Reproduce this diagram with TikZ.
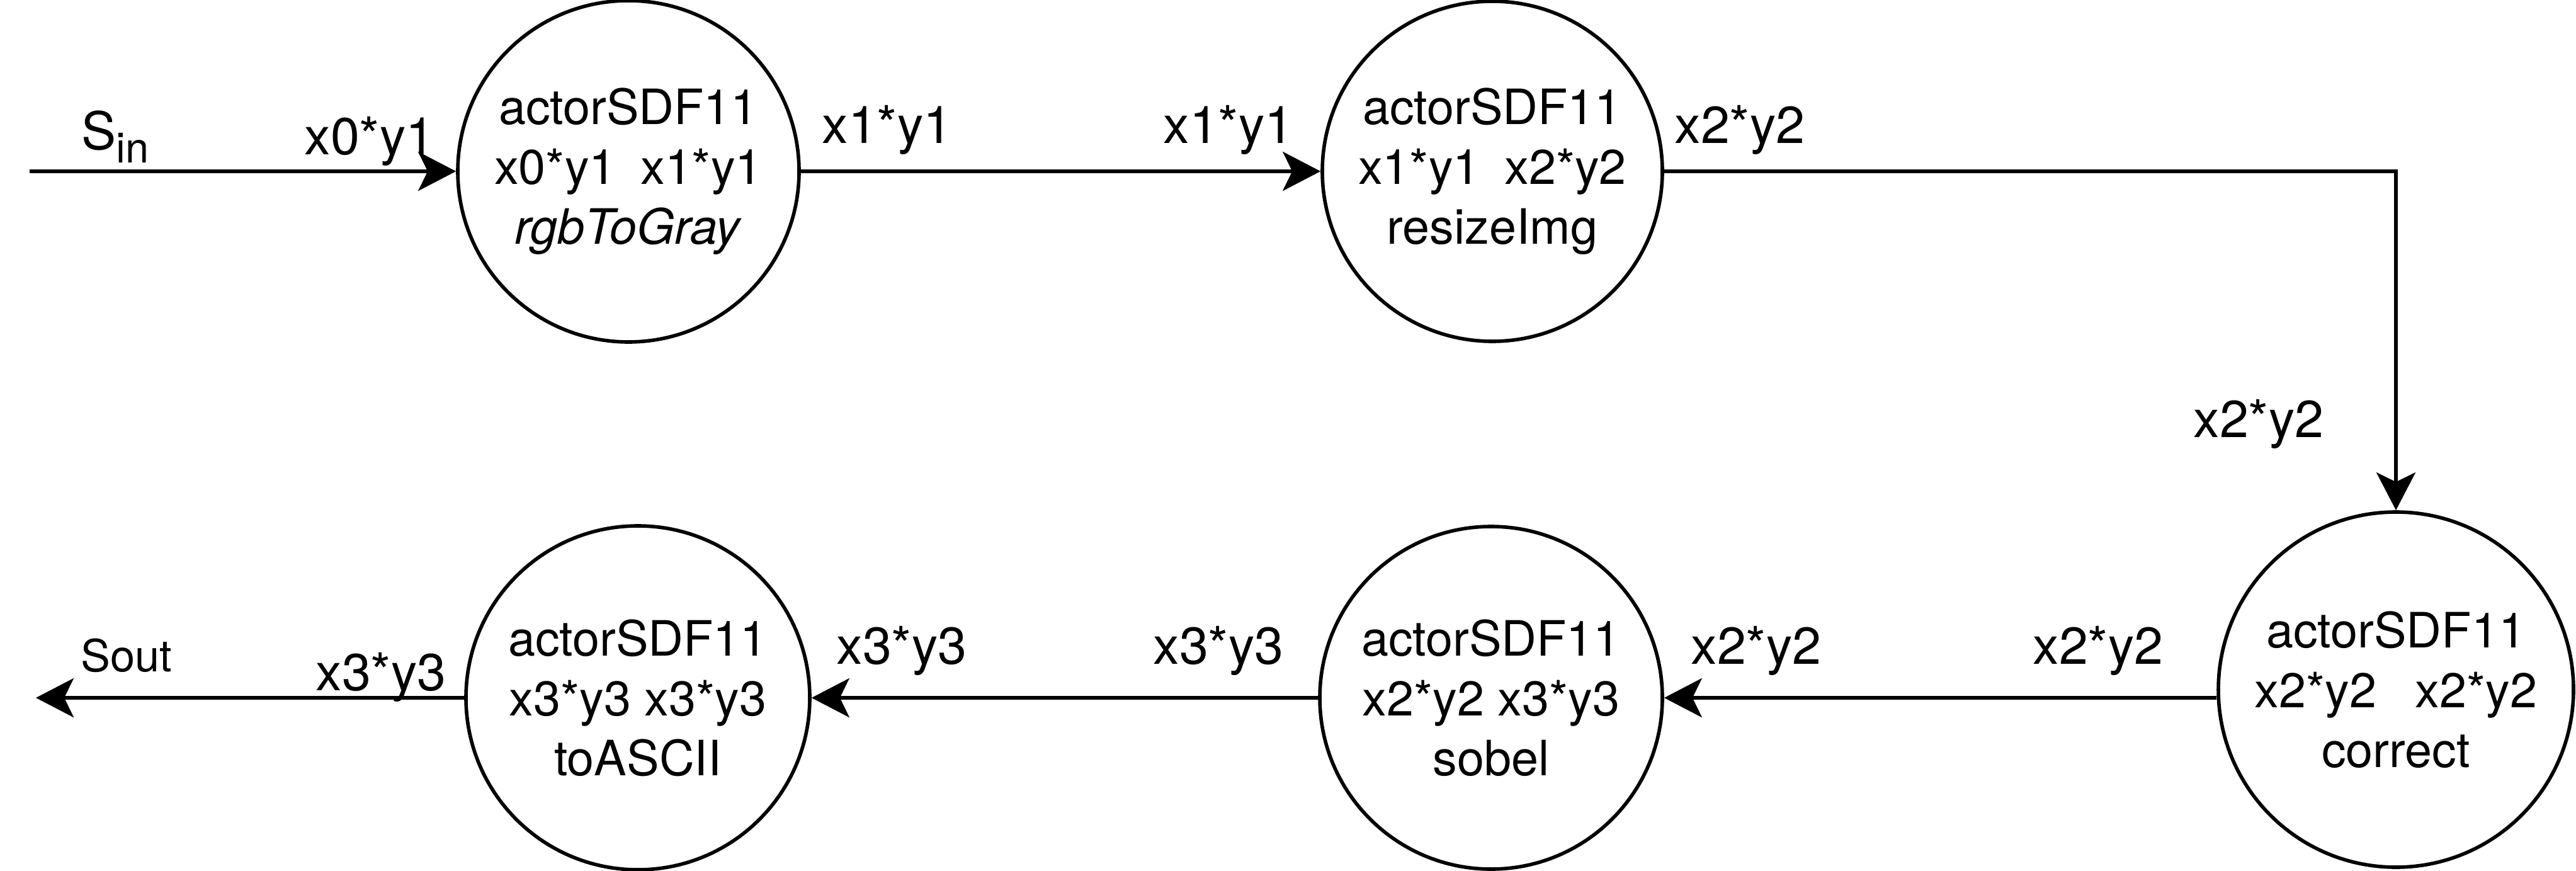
\documentclass[tikz,border=0pt]{standalone}
\usepackage{fontspec}
\setmainfont{TeX Gyre Heros}
\usetikzlibrary{arrows.meta,positioning}

\begin{document}
\begin{tikzpicture}[
    actor/.style={circle, draw, line width=1.6pt, inner sep=0pt, align=center, font=\fontsize{22}{27}\selectfont},
    rate/.style={inner sep=1pt, font=\fontsize{23.5}{27}\selectfont},
    flow/.style={-{Stealth[length=6mm, width=6.2mm, inset=1.5mm]}, line width=1.6pt}]

  \useasboundingbox (0,0) rectangle (40.91,-13.83);

  % top row
  \node[actor, minimum size=5.42cm] (gray) at (9.98,-2.72)
    {actorSDF11\\x0*y1\hspace{0.5em}x1*y1\\\textit{rgbToGray}};
  \node[actor, minimum size=5.40cm] (resize) at (23.70,-2.72)
    {actorSDF11\\x1*y1\hspace{0.5em}x2*y2\\resizeImg};

  % bottom row
  \node[actor, minimum size=5.64cm] (correct) at (38.05,-10.95)
    {actorSDF11\\x2*y2\hspace{0.8em}x2*y2\\correct};
  \node[actor, minimum size=5.44cm] (sobel) at (23.68,-11.08)
    {actorSDF11\\x2*y2 x3*y3\\sobel};
  \node[actor, minimum size=5.46cm] (ascii) at (10.13,-11.08)
    {actorSDF11\\x3*y3 x3*y3\\toASCII};

  \coordinate (sin) at (0.47,-2.72);
  \coordinate (sout) at (0.57,-11.08);

  % edges
  \draw[flow] (sin) -- (gray.west);
  \draw[flow] (gray.east) -- (resize.west);
  \draw[flow] (resize.east) -| (correct.north);
  \draw[flow] (correct.west |- sobel.east) -- (sobel.east);
  \draw[flow] (sobel.west) -- (ascii.east);
  \draw[flow] (ascii.west) -- (sout);

  % rates
  \node[rate] (insig) at (1.83,-2.17) {S{\fontsize{19}{20}\selectfont\raisebox{-6pt}{in}}};
  \node[rate] (r01) at (5.87,-2.24) {x0*y1};
  \node[rate] (r11) at (14.09,-2.06) {x1*y1};
  \node[rate] (r12) at (19.51,-2.06) {x1*y1};
  \node[rate] (r21) at (27.63,-2.06) {x2*y2};
  \node[rate] (r22) at (35.87,-6.73) {x2*y2};
  \node[rate] (r23) at (33.32,-10.33) {x2*y2};
  \node[rate] (r24) at (27.89,-10.33) {x2*y2};
  \node[rate] (r31) at (19.35,-10.33) {x3*y3};
  \node[rate] (r32) at (14.32,-10.33) {x3*y3};
  \node[rate] (r33) at (6.05,-10.75) {x3*y3};
  \node[rate, font=\fontsize{20}{22}\selectfont] (outsig) at (2.01,-10.41) {Sout};
\end{tikzpicture}
\end{document}
